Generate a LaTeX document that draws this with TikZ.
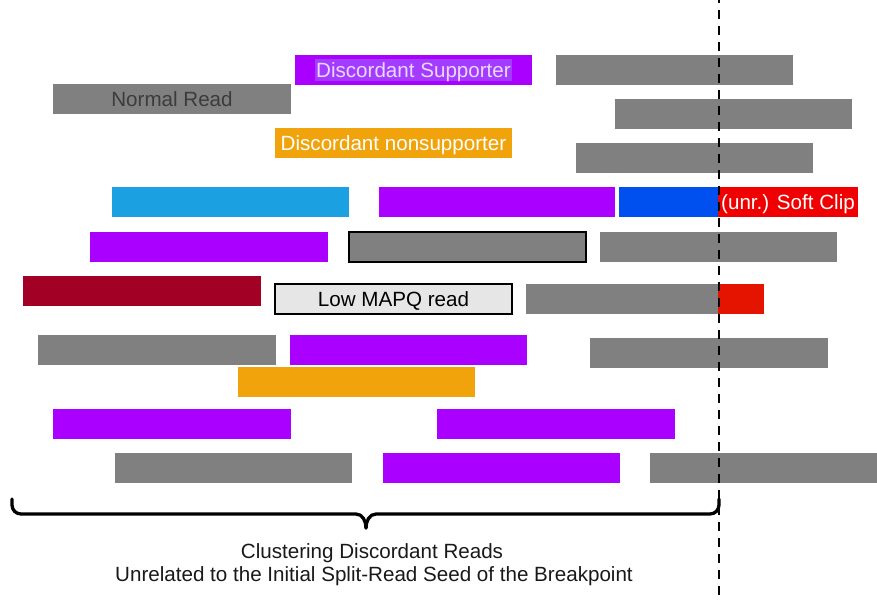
\documentclass[tikz,border=0pt]{standalone}
\usepackage{fontspec}
\setmainfont{Liberation Sans}
\definecolor{cviolet}{HTML}{AA00FF}
\definecolor{cvioletlt}{HTML}{A33CFF}
\definecolor{cvioletxt}{HTML}{EAD8FF}
\definecolor{cgray}{HTML}{808080}
\definecolor{camber}{HTML}{F0A30A}
\definecolor{ccyan}{HTML}{1BA1E2}
\definecolor{ccobalt}{HTML}{0050EF}
\definecolor{cred}{HTML}{F00000}
\definecolor{cred2}{HTML}{E51400}
\definecolor{ccrimson}{HTML}{A20025}
\definecolor{clight}{HTML}{E6E6E6}
\definecolor{cdark}{HTML}{3C3C3C}
\tikzset{
  read/.style={rectangle, inner sep=0pt, outer sep=0pt, anchor=north west,
    minimum width=#1, minimum height=30pt},
  read/.default=237pt,
  outlined/.style={draw=black, line width=1.3pt},
  lbl/.style={inner sep=0pt, font=\fontsize{20.6}{24}\selectfont,
    text height=14.8pt, text depth=0pt},
}
\begin{document}
\begin{tikzpicture}[x=1pt,y=-1pt]
\useasboundingbox (0,0) rectangle (877,599);
% row 1
\node[read, fill=cviolet] (r1) at (295,55) {};
\node[read, fill=cgray] (r2) at (556,55) {};
\node[lbl, fill=cvioletlt, inner xsep=1.5pt, inner ysep=4pt, text=cvioletxt] (t1) at (r1.center) {Discordant Supporter};
% row 2
\node[read=238pt, fill=cgray] (r3) at (53,84) {};
\node[lbl, text=cdark] (t3) at (r3.center) {Normal Read};
\node[read, fill=cgray] (r4) at (615,99) {};
% row 3
\node[read, fill=camber] (r5) at (275,128) {};
\node[lbl, text=white] (t5) at (r5.center) {Discordant nonsupporter};
\node[read, fill=cgray] (r6) at (576,143) {};
% row 4
\node[read, fill=ccyan] (r7) at (112,187) {};
\node[read=236pt, fill=cviolet] (r8) at (379,187) {};
\node[read=99pt, fill=ccobalt] (r9) at (619,187) {};
\node[read=140pt, fill=cred] (r10) at (718,187) {};
\node[lbl, text=white] (t10) at (r10.center) {(unr.) Soft Clip};
% row 5
\node[read=238pt, fill=cviolet] (r11) at (90,232) {};
\node[read, fill=cgray, outlined] (r12) at (349,232) {};
\node[read, fill=cgray] (r13) at (600,232) {};
% row 6
\node[read=238pt, fill=ccrimson] (r14) at (23,276) {};
\node[read, fill=clight, outlined] (r15) at (275,284) {};
\node[lbl, text=black] (t15) at (r15.center) {Low MAPQ read};
\node[read=192pt, fill=cgray] (r16) at (526,284) {};
\node[read=46pt, fill=cred2] (r17) at (718,284) {};
% row 7
\node[read=238pt, fill=cgray] (r18) at (38,335) {};
\node[read, fill=cviolet] (r19) at (290,335) {};
\node[read=238pt, fill=cgray] (r20) at (590,338) {};
\node[read, fill=camber] (r21) at (238,367) {};
% row 8
\node[read=238pt, fill=cviolet] (r22) at (53,409) {};
\node[read=238pt, fill=cviolet] (r23) at (437,409) {};
% row 9
\node[read, fill=cgray] (r24) at (115,453) {};
\node[read, fill=cviolet] (r25) at (383,453) {};
\node[read=227pt, fill=cgray] (r26) at (650,453) {};
% breakpoint line
\coordinate (bpTop) at (719,0);
\coordinate (bpBot) at (719,599);
\draw[line width=2pt, dash pattern=on 9pt off 7pt, dash phase=-10pt] (bpTop) -- (bpBot);
% brace
\coordinate (bL) at (12,499);
\coordinate (bM) at (366,528);
\coordinate (bR) at (719,499);
\draw[line width=3.3pt, line cap=round, line join=round]
  (bL) -- (12,505) to[out=-90,in=180] (21,514) -- (356,514)
  to[out=0,in=90] (bM);
\draw[line width=3.3pt, line cap=round, line join=round]
  (bR) -- (719,505) to[out=-90,in=0] (710,514) -- (376,514)
  to[out=180,in=90] (bM);
% caption
\node[lbl, text=black!90] (cap1) at (372,551) {Clustering Discordant Reads};
\node[lbl, text=black!90] (cap2) at (374,574) {Unrelated to the Initial Split-Read Seed of the Breakpoint};
\end{tikzpicture}
\end{document}
